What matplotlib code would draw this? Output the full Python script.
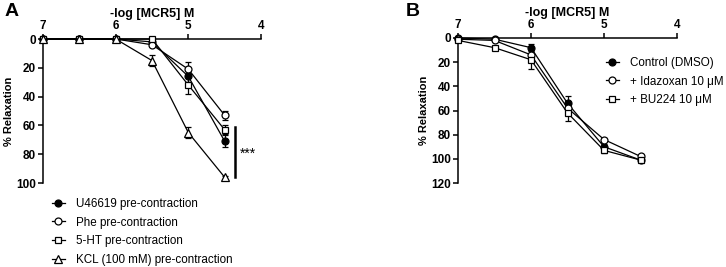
import matplotlib

matplotlib.use("Agg")
import matplotlib.pyplot as plt

plt.rcParams["font.family"] = ["Liberation Sans", "DejaVu Sans"]

# concentrations, -log M
log_conc = [7, 6.5, 6, 5.5, 5, 4.5]

# panel A: pre-contraction agents
a_labels = ["U46619 pre-contraction", "Phe pre-contraction",
            "5-HT pre-contraction", "KCL (100 mM) pre-contraction"]
a_mean = [
    [0, 0, 0, 2, 26, 71],
    [0, 0, 0, 4, 21, 53],
    [0, 0, 0, 0, 32, 63],
    [0, 0, 0, 15, 65, 96],
]
a_err = [
    [0, 0, 0, 1, 4, 4],
    [0, 0, 0, 1, 5, 3],
    [0, 0, 0, 1, 6, 3],
    [0, 0, 0, 4, 4, 1],
]

# panel B: antagonists
b_labels = ["Control (DMSO)", "+ Idazoxan 10 μM", "+ BU224 10 μM"]
b_mean = [
    [0, 1, 8, 54, 90, 101],
    [1, 2, 14, 58, 84, 98],
    [2, 8, 18, 62, 93, 101],
]
b_err = [
    [0, 0, 3, 6, 2, 2],
    [0, 0, 2, 3, 1, 1],
    [0, 1, 8, 7, 2, 1],
]

markers = [("o", "black"), ("o", "white"), ("s", "white"), ("^", "white")]

W, H = 726, 267
fig = plt.figure(figsize=(W / 100, H / 100), dpi=100)


def px_axes(x0, y0, x1, y1):
    return fig.add_axes([x0 / W, 1 - y1 / H, (x1 - x0) / W, (y1 - y0) / H])


def style_axis(ax, ymax, ystep):
    ax.set_xlim(7, 4)
    ax.set_ylim(ymax, 0)
    ax.xaxis.tick_top()
    ax.xaxis.set_label_position("top")
    ax.set_xticks([7, 6, 5, 4])
    ax.set_yticks(range(0, ymax + 1, ystep))
    for s in ["right", "bottom"]:
        ax.spines[s].set_visible(False)
    for s in ["top", "left"]:
        ax.spines[s].set_linewidth(1.1)
    ax.tick_params(direction="out", length=3.5, width=1.1, labelsize=8.5, pad=1.5)
    for lab in ax.get_xticklabels() + ax.get_yticklabels():
        lab.set_fontweight("bold")
    ax.set_xlabel("-log [MCR5] M", fontsize=9, fontweight="bold", labelpad=2)
    ax.set_ylabel("% Relaxation", fontsize=8, fontweight="bold")
    ax.yaxis.set_label_coords(-29 / 218, 0.5)


def draw_series(ax, means, errs, labels):
    for (m, fc), y, e, lab in zip(markers, means, errs, labels):
        ms = 5.5 if m == "^" else 5
        ax.errorbar(log_conc, y, yerr=e, fmt="none", ecolor="black",
                    elinewidth=0.9, capsize=2.5, capthick=0.9, clip_on=False, zorder=2)
        ax.plot(log_conc, y, color="black", lw=0.9, marker=m, ms=ms, mfc=fc,
                mec="black", mew=0.9, label=lab, clip_on=False, zorder=3)


legend_kw = dict(frameon=False, fontsize=8.4, handlelength=1.1, handletextpad=1.0,
                 labelspacing=0.56, borderpad=0, borderaxespad=0, loc="upper left")

# Panel A
axA = px_axes(43, 39, 261, 183)
style_axis(axA, 100, 20)
draw_series(axA, a_mean, a_err, a_labels)
axA.plot([4.36, 4.36], [61, 96], color="black", lw=1.8, clip_on=False)
axA.text(4.29, 80, "***", fontsize=10, va="center", ha="left")
axA.legend(bbox_to_anchor=(52 / W, 1 - 198 / H), bbox_transform=fig.transFigure, **legend_kw)
fig.text(12 / W, 1 - 12 / H, "A", fontsize=14, fontweight="bold", va="center", ha="center")

# Panel B
axB = px_axes(458, 38, 677, 183)
style_axis(axB, 120, 20)
draw_series(axB, b_mean, b_err, b_labels)
axB.legend(bbox_to_anchor=(606 / W, 1 - 57 / H), bbox_transform=fig.transFigure, **legend_kw)
fig.text(413 / W, 1 - 12 / H, "B", fontsize=14, fontweight="bold", va="center", ha="center")

fig.savefig("out.png", dpi=100)
